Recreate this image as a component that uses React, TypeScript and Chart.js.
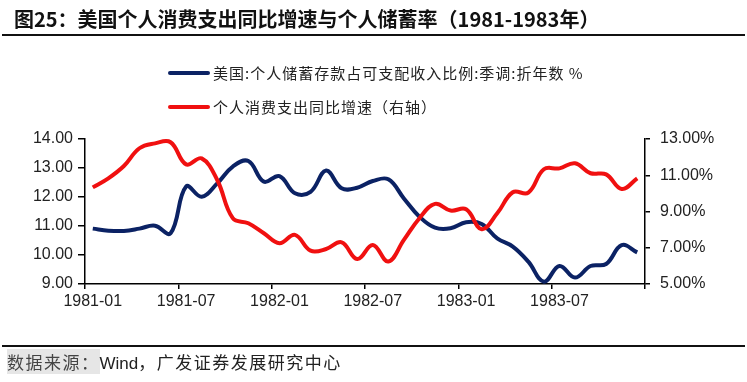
import React, { useEffect, useRef } from "react";
import { Chart, registerables } from "chart.js";

Chart.register(...registerables);

const months = [
  "1981-01", "1981-02", "1981-03", "1981-04", "1981-05", "1981-06",
  "1981-07", "1981-08", "1981-09", "1981-10", "1981-11", "1981-12",
  "1982-01", "1982-02", "1982-03", "1982-04", "1982-05", "1982-06",
  "1982-07", "1982-08", "1982-09", "1982-10", "1982-11", "1982-12",
  "1983-01", "1983-02", "1983-03", "1983-04", "1983-05", "1983-06",
  "1983-07", "1983-08", "1983-09", "1983-10", "1983-11", "1983-12",
];

// 美国:个人储蓄存款占可支配收入比例:季调:折年数 % (left axis)
const savingsRate = [
  10.91, 10.84, 10.83, 10.91, 11.01, 10.75,
  12.36, 12.01, 12.47, 13.05, 13.24, 12.53,
  12.72, 12.13, 12.18, 12.91, 12.30, 12.32,
  12.55, 12.61, 11.95, 11.32, 10.94, 10.92,
  11.13, 11.07, 10.57, 10.29, 9.77, 9.08,
  9.62, 9.22, 9.62, 9.69, 10.34, 10.09,
];

// 个人消费支出同比增速 (right axis, %)
const pceGrowth = [
  10.33, 10.83, 11.51, 12.49, 12.76, 12.82,
  11.60, 11.93, 10.74, 8.63, 8.35, 7.80,
  7.25, 7.71, 6.84, 6.93, 7.30, 6.38,
  7.15, 6.24, 7.43, 8.63, 9.42, 9.05,
  9.12, 8.02, 8.90, 10.06, 10.04, 11.33,
  11.38, 11.66, 11.11, 11.05, 10.24, 10.83,
];

const leftTicks = { min: 9, max: 14, step: 1 };
const rightTicks = { min: 5, max: 13, step: 2 };

const titleText = "图25：美国个人消费支出同比增速与个人储蓄率（1981-1983年）";
const seriesNames = ["美国:个人储蓄存款占可支配收入比例:季调:折年数 %", "个人消费支出同比增速（右轴）"];
const sourceLabel = "数据来源：";
const sourceRest = "，广发证券发展研究中心";

const BLUE = "#0B2264";
const RED = "#F01010";
const TICK_FONT = { family: "'Liberation Sans', Arial, sans-serif", size: 16 };
const CJK = "'Noto Sans CJK SC', 'Liberation Sans', sans-serif";

export default function App() {
  const canvasRef = useRef<HTMLCanvasElement | null>(null);

  useEffect(() => {
    const canvas = canvasRef.current;
    if (!canvas) return;
    const chart = new Chart(canvas, {
      type: "line",
      data: {
        labels: months,
        datasets: [
          {
            label: seriesNames[0],
            data: savingsRate,
            borderColor: BLUE,
            backgroundColor: BLUE,
            borderWidth: 4,
            pointRadius: 0,
            tension: 0.4,
            yAxisID: "y",
            order: 1,
          },
          {
            label: seriesNames[1],
            data: pceGrowth,
            borderColor: RED,
            backgroundColor: RED,
            borderWidth: 4,
            pointRadius: 0,
            tension: 0.4,
            yAxisID: "y1",
            order: 0,
          },
        ],
      },
      options: {
        responsive: false,
        maintainAspectRatio: false,
        animation: false,
        layout: { padding: { top: 139, bottom: 68, left: 0, right: 0 } },
        plugins: { legend: { display: false }, tooltip: { enabled: false } },
        scales: {
          x: {
            offset: true,
            afterFit: (s: any) => { s.height = 30; },
            border: { display: true, color: "#000", width: 1.5 },
            grid: {
              offset: true,
              drawOnChartArea: false,
              drawTicks: true,
              tickLength: 5,
              lineWidth: 1.5,
              color: (ctx: any) =>
                ctx.type !== "tick" || ctx.index % 6 === 0 ? "#000" : "rgba(0,0,0,0)",
            },
            ticks: {
              autoSkip: false,
              maxRotation: 0,
              minRotation: 0,
              padding: 3,
              color: "#222",
              font: TICK_FONT,
              callback: (_v: any, i: number) => (i % 6 === 0 ? months[i] : ""),
            },
          },
          y: {
            position: "left",
            min: leftTicks.min,
            max: leftTicks.max,
            afterFit: (s: any) => { s.width = 85; },
            border: { display: true, color: "#000", width: 1.5 },
            grid: { drawOnChartArea: false, tickLength: 7, color: "#000", lineWidth: 1.5 },
            ticks: {
              stepSize: leftTicks.step,
              padding: 5,
              color: "#222",
              font: TICK_FONT,
              callback: (v: any) => Number(v).toFixed(2),
            },
          },
          y1: {
            position: "right",
            min: rightTicks.min,
            max: rightTicks.max,
            afterFit: (s: any) => { s.width = 102; },
            border: { display: true, color: "#000", width: 1.5 },
            grid: { drawOnChartArea: false, tickLength: 5, color: "#000", lineWidth: 1.5 },
            ticks: {
              stepSize: rightTicks.step,
              padding: 10,
              color: "#222",
              font: TICK_FONT,
              callback: (v: any) => Number(v).toFixed(2) + "%",
            },
          },
        },
      },
    });
    return () => chart.destroy();
  }, []);

  const legendRow = (color: string, text: string, cy: number) => (
    <div key={text} style={{ position: "absolute", left: 168, top: cy - 11, height: 22, display: "flex", alignItems: "center" }}>
      <div style={{ width: 42, height: 4, background: color, borderRadius: 2 }} />
      <span style={{ marginLeft: 3, fontFamily: CJK, fontSize: 15, letterSpacing: 1, color: "#222", lineHeight: "22px", whiteSpace: "nowrap" }}>{text}</span>
    </div>
  );

  return (
    <div style={{ position: "fixed", left: 0, top: 0, width: 747, height: 382, background: "#fff", overflow: "hidden" }}>
      <canvas ref={canvasRef} width={747} height={382} style={{ position: "absolute", left: 0, top: 0, width: 747, height: 382 }} />
      <div style={{ position: "absolute", left: 14, top: 5, fontFamily: CJK, fontWeight: 700, fontSize: 20, lineHeight: "28px", color: "#111", whiteSpace: "nowrap" }}>
        {titleText}
      </div>
      <div style={{ position: "absolute", left: 2, top: 34, width: 743, height: 1.5, background: "#111" }} />
      {legendRow(BLUE, seriesNames[0], 73)}
      {legendRow(RED, seriesNames[1], 107)}
      <div style={{ position: "absolute", left: 2, top: 345, width: 743, height: 1.5, background: "#111" }} />
      <div style={{ position: "absolute", left: 7, top: 350, fontSize: 17, lineHeight: "24px", color: "#222", whiteSpace: "nowrap", letterSpacing: 1.5 }}>
        <span style={{ fontFamily: CJK, background: "#e6e6e6", color: "#444" }}>{sourceLabel}</span>
        <span style={{ fontFamily: "'Liberation Sans', Arial, sans-serif", letterSpacing: 0 }}>Wind</span>
        <span style={{ fontFamily: CJK }}>{sourceRest}</span>
      </div>
    </div>
  );
}
